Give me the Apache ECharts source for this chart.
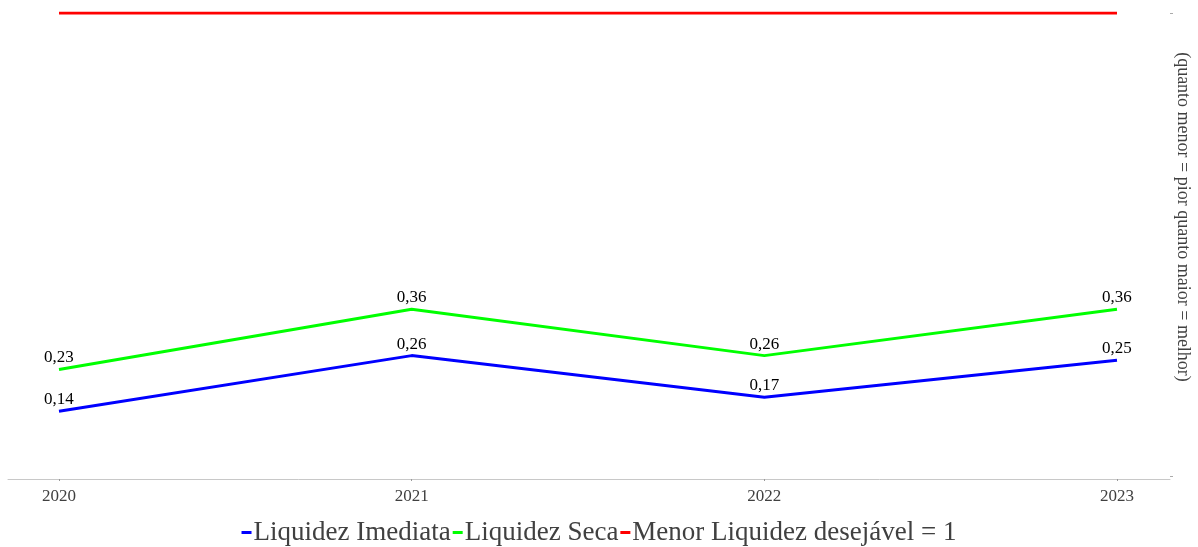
<!DOCTYPE html>
<html>
<head>
<meta charset="utf-8">
<script src="https://cdn.jsdelivr.net/npm/echarts@6/dist/echarts.min.js"></script>
<style>
html,body{margin:0;padding:0;background:#fff;}
#chart{width:1198px;height:547px;}
</style>
</head>
<body>
<div id="chart"></div>
<script>
var years = [2020, 2021, 2022, 2023];
var liquidezImediata = [0.14, 0.26, 0.17, 0.25];
var liquidezSeca = [0.23, 0.36, 0.26, 0.36];
var menorDesejavel = [1, 1, 1, 1];
var seriesNames = ['Liquidez Imediata', 'Liquidez Seca', 'Menor Liquidez desejável = 1'];
var yAxisName = '(quanto menor = pior quanto maior = melhor)';

function pairs(vals) { return years.map(function (y, i) { return [y, vals[i]]; }); }
var fmt = function (p) { return p.value[1].toFixed(2).replace('.', ','); };
var FONT = '"Liberation Serif", "DejaVu Serif", serif';

var chart = echarts.init(document.getElementById('chart'));
chart.setOption({
  animation: false,
  textStyle: { fontFamily: FONT },
  grid: { left: 8, right: 28, top: 13, bottom: 68, containLabel: false, outerBoundsMode: 'none' },
  legend: {
    bottom: -4, left: 'center',
    itemWidth: 10, itemHeight: 3, itemGap: 2, icon: 'rect',
    textStyle: { fontFamily: FONT, fontSize: 27, color: '#404040', padding: [0, 0, 0, -3] },
    data: seriesNames
  },
  xAxis: {
    type: 'value', min: 2019.8554, max: 2023.1503,
    splitLine: { show: false },
    axisLine: { onZero: false, lineStyle: { color: '#c8c8c8', width: 1 } },
    axisTick: { show: true, length: 2, customValues: years, lineStyle: { color: '#999' } },
    axisLabel: { customValues: years, fontFamily: FONT, fontSize: 17, color: '#404040', margin: 9, formatter: function (v) { return String(v); } }
  },
  yAxis: {
    type: 'value', position: 'right', min: -0.0065, max: 1,
    splitLine: { show: false },
    axisLine: { show: false },
    axisTick: { show: true, length: 3, customValues: [0, 1], lineStyle: { color: '#aaa' } },
    axisLabel: { show: false },
    name: yAxisName, nameLocation: 'middle', nameRotate: -90, nameGap: 4,
    nameTextStyle: { fontFamily: FONT, fontSize: 18, color: '#404040', padding: [0, 58, 0, 0] }
  },
  series: [
    { name: seriesNames[0], type: 'line', data: pairs(liquidezImediata), symbol: 'circle', symbolSize: 0.001,
      lineStyle: { color: '#0000ff', width: 3 }, itemStyle: { color: '#0000ff' },
      label: { show: true, position: 'top', distance: 3, formatter: fmt, fontFamily: FONT, fontSize: 17, color: '#000' } },
    { name: seriesNames[1], type: 'line', data: pairs(liquidezSeca), symbol: 'circle', symbolSize: 0.001,
      lineStyle: { color: '#00ff00', width: 3 }, itemStyle: { color: '#00ff00' },
      label: { show: true, position: 'top', distance: 3, formatter: fmt, fontFamily: FONT, fontSize: 17, color: '#000' } },
    { name: seriesNames[2], type: 'line', data: pairs(menorDesejavel), showSymbol: false, symbol: 'none',
      lineStyle: { color: '#ff0000', width: 3 }, itemStyle: { color: '#ff0000' } }
  ]
});
</script>
</body>
</html>
